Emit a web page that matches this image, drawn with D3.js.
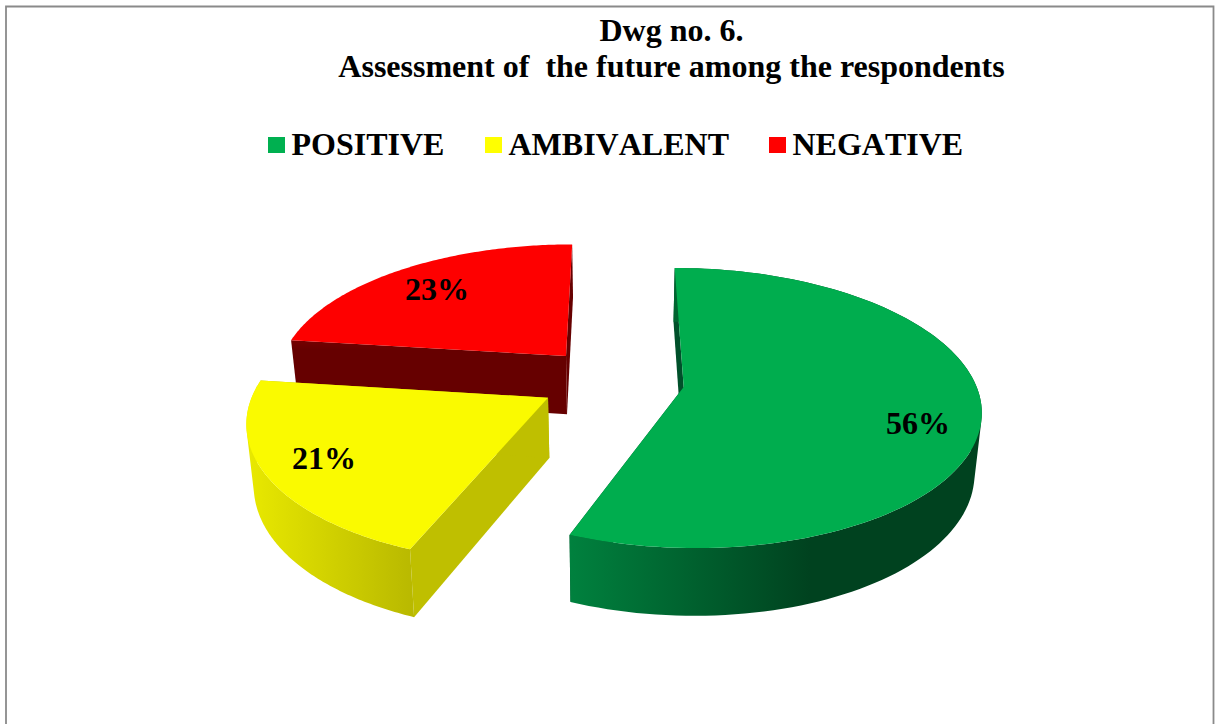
<!DOCTYPE html>
<html><head><meta charset="utf-8">
<style>html,body{margin:0;padding:0;background:#fff;overflow:hidden}svg{display:block}text{font-family:"Liberation Serif",serif;font-weight:bold;fill:#000}</style>
<script src="https://cdn.jsdelivr.net/npm/d3@7/dist/d3.min.js"></script>
</head><body>
<script>
const categories = ["POSITIVE", "AMBIVALENT", "NEGATIVE"];
const values = [56, 21, 23];
const valueLabels = ["56%", "21%", "23%"];
const titleLines = ["Dwg no. 6.", "Assessment of  the future among the respondents"];
const legendColors = ["#00b050", "#ffff00", "#ff0000"];
const topColors = ["#00ad4e", "#fafa00", "#fe0000"];
const cutColors = ["#00502a", "#bfbf00", "#660000"];
const wallStops = [["#00813e", "#00421f"], ["#e8e800", "#b9b900"], ["#660000", "#660000"]];
const wallExtents = [[570, 810], [250, 412], [290, 570]];
// slice displacement in the tilted pie plane (unit = pie radius)
const explodeU = [0.2355, -0.225, -0.172];
const explodeV = [0, 0.077, -0.2344];
const labelRadius = [0.80, 0.805, 0.76];
const labelAngleShift = [7.6, 0.5, -0.6];
const legendSwatchX = [268, 485, 769];

const W = 1215, H = 724;
const R = 293, flat = 136.9, persp = 0.15, vx = 614.7, vy = 387, bottomVy = 393;
const svg = d3.select("body").append("svg").attr("width", W).attr("height", H);

// frame
svg.append("path").attr("d", d3.line()([[6, H + 5], [6, 6.5], [1213.5, 6.5], [1213.5, H + 5]]))
  .attr("fill", "none").attr("stroke", "#8a8a8a").attr("stroke-width", 1.8);

const color = d3.scaleOrdinal(categories, legendColors);
const faceColor = d3.scaleOrdinal(categories, topColors);
const arcs = d3.pie().sort(null).startAngle(0).endAngle(2 * Math.PI)(values);
const defs = svg.append("defs");

function project(u, v) {
  const s = 1 / (1 - persp * v);
  return [vx + u * R * s, vy + flat * v * s];
}
const toBottom = ([x, y]) => [vx + 0.98 * (x - vx), bottomVy + 1.05 * (y - bottomVy) + 60];
const line = d3.line();
const rimSteps = d => d3.range(0, 121).map(i => d.startAngle + (d.endAngle - d.startAngle) * i / 120);

wallStops.forEach((st, i) => {
  const g = defs.append("linearGradient").attr("id", "wall" + i).attr("gradientUnits", "userSpaceOnUse")
    .attr("x1", wallExtents[i][0]).attr("x2", wallExtents[i][1]).attr("y1", 0).attr("y2", 0);
  g.append("stop").attr("offset", 0).attr("stop-color", st[0]);
  g.append("stop").attr("offset", 1).attr("stop-color", st[1]);
});
const sliver = defs.append("linearGradient").attr("id", "redSide").attr("gradientUnits", "userSpaceOnUse")
  .attr("x1", 0).attr("x2", 0).attr("y1", 270).attr("y2", 350);
sliver.append("stop").attr("offset", 0).attr("stop-color", "#e80000");
sliver.append("stop").attr("offset", 1).attr("stop-color", "#660000");

// back slices first
[2, 1, 0].forEach(i => {
  const d = arcs[i];
  const pt = a => project(explodeU[i] + Math.sin(a), explodeV[i] - Math.cos(a));
  const apex = project(explodeU[i], explodeV[i]);
  const rim = rimSteps(d).map(pt);
  const g = svg.append("g");
  const first = rim[0], last = rim[rim.length - 1];
  // cut faces
  g.append("path").attr("d", line([apex, first, toBottom(first), toBottom(apex)]) + "Z")
    .attr("fill", i === 2 ? "url(#redSide)" : cutColors[i]);
  g.append("path").attr("d", line([apex, last, toBottom(last), toBottom(apex)]) + "Z")
    .attr("fill", cutColors[i]);
  // outer wall: one path of ruled quads with the same winding, so the silhouette is complete
  if (i !== 2) {
    const quads = rim.slice(1).map((p, k) => {
      const q = [rim[k], p, toBottom(p), toBottom(rim[k])];
      if (d3.polygonArea(q) < 0) q.reverse();
      return line(q) + "Z";
    }).join("");
    g.append("path").attr("d", quads).attr("fill", `url(#wall${i})`);
  }
  // top face
  g.append("path").attr("d", line([apex].concat(rim)) + "Z").attr("fill", faceColor(categories[i]));
});

// value labels
arcs.forEach((d, i) => {
  const a = (d.startAngle + d.endAngle) / 2 + labelAngleShift[i] * Math.PI / 180;
  const p = project(explodeU[i] + labelRadius[i] * Math.sin(a), explodeV[i] - labelRadius[i] * Math.cos(a));
  svg.append("text").attr("x", p[0] + 0.3).attr("y", p[1] + 11).attr("text-anchor", "middle")
    .attr("font-size", 32).text(valueLabels[i]);
});

// title
svg.selectAll("text.title").data(titleLines).join("text").attr("class", "title")
  .attr("x", 671.5).attr("y", (d, i) => 41 + i * 35.5)
  .attr("text-anchor", "middle").attr("font-size", 32).style("white-space", "pre").text(d => d);

// legend
categories.forEach((c, i) => {
  svg.append("rect").attr("x", legendSwatchX[i]).attr("y", 137).attr("width", 17).attr("height", 16)
    .attr("fill", color(c));
  svg.append("text").attr("x", legendSwatchX[i] + 23.5).attr("y", 155).attr("font-size", 32)
    .style("font-kerning", "none").text(c);
});
</script>
</body></html>
